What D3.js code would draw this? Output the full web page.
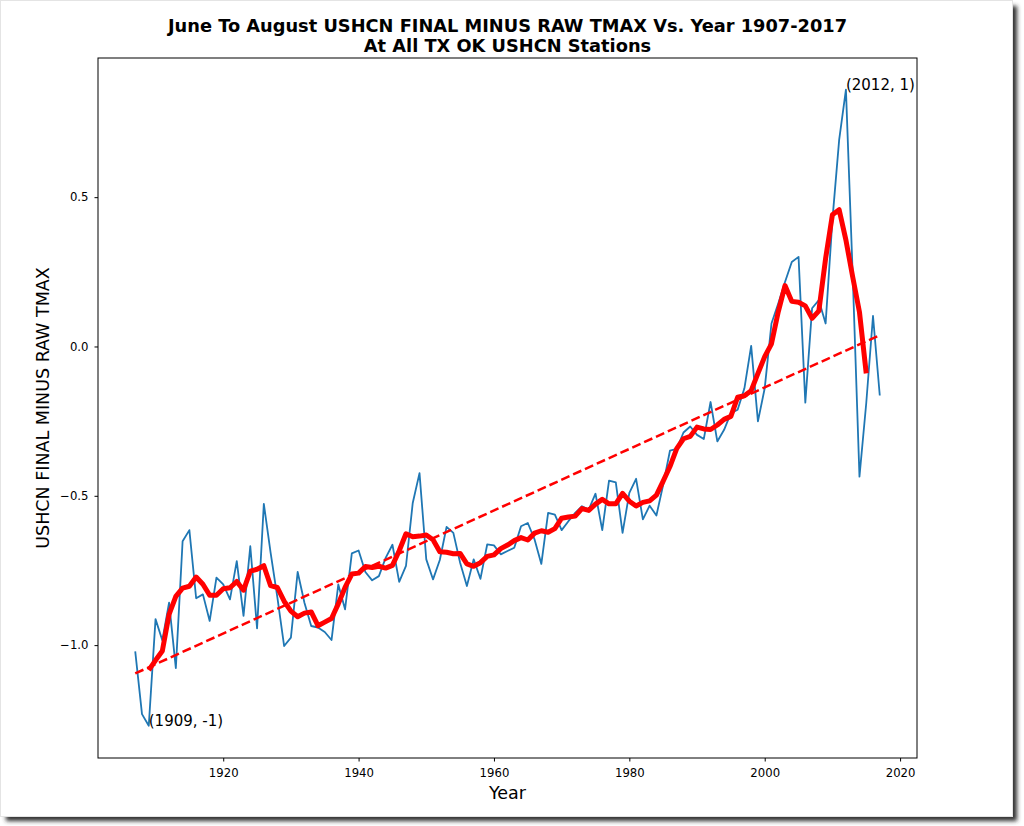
<!DOCTYPE html>
<meta charset="utf-8">
<style>
    body { margin: 0; background: #fff; }
    text { font-family: 'DejaVu Sans', sans-serif; }
    .tick text { font-size: 11.7px; fill: #000; }
    .tick line { stroke: #000; }
</style>
<!-- Load d3.js -->
<script src="https://d3js.org/d3.v7.min.js"></script>

<div id="my_dataviz"></div>
<script>

    // yearly values, June to August, final minus raw tmax
    var years = [
      1907, 1908, 1909, 1910, 1911, 1912, 1913, 1914, 1915, 1916,
      1917, 1918, 1919, 1920, 1921, 1922, 1923, 1924, 1925, 1926,
      1927, 1928, 1929, 1930, 1931, 1932, 1933, 1934, 1935, 1936,
      1937, 1938, 1939, 1940, 1941, 1942, 1943, 1944, 1945, 1946,
      1947, 1948, 1949, 1950, 1951, 1952, 1953, 1954, 1955, 1956,
      1957, 1958, 1959, 1960, 1961, 1962, 1963, 1964, 1965, 1966,
      1967, 1968, 1969, 1970, 1971, 1972, 1973, 1974, 1975, 1976,
      1977, 1978, 1979, 1980, 1981, 1982, 1983, 1984, 1985, 1986,
      1987, 1988, 1989, 1990, 1991, 1992, 1993, 1994, 1995, 1996,
      1997, 1998, 1999, 2000, 2001, 2002, 2003, 2004, 2005, 2006,
      2007, 2008, 2009, 2010, 2011, 2012, 2013, 2014, 2015, 2016,
      2017];

    var values = [
      -1.021, -1.231, -1.270, -0.913, -0.984, -0.858, -1.077, -0.652, -0.615, -0.843,
      -0.830, -0.919, -0.774, -0.797, -0.847, -0.719, -0.902, -0.669, -0.944, -0.527,
      -0.690, -0.840, -1.003, -0.975, -0.755, -0.858, -0.936, -0.941, -0.956, -0.983,
      -0.797, -0.880, -0.693, -0.683, -0.755, -0.783, -0.769, -0.708, -0.664, -0.788,
      -0.735, -0.524, -0.424, -0.713, -0.780, -0.715, -0.604, -0.624, -0.724, -0.802,
      -0.713, -0.778, -0.663, -0.666, -0.696, -0.685, -0.674, -0.602, -0.591, -0.646,
      -0.728, -0.557, -0.563, -0.615, -0.585, -0.557, -0.535, -0.546, -0.493, -0.615,
      -0.449, -0.455, -0.624, -0.490, -0.443, -0.579, -0.533, -0.566, -0.463, -0.349,
      -0.343, -0.288, -0.268, -0.296, -0.310, -0.186, -0.318, -0.279, -0.223, -0.212,
      -0.140, 0.002, -0.251, -0.140, 0.077, 0.144, 0.216, 0.283, 0.300, -0.188,
      0.128, 0.155, 0.077, 0.423, 0.692, 0.860, 0.240, -0.436, -0.190, 0.102,
      -0.164];

    // 5 year centred running mean, 1909-2015
    var smoothYears = [
      1909, 1910, 1911, 1912, 1913, 1914, 1915, 1916, 1917, 1918,
      1919, 1920, 1921, 1922, 1923, 1924, 1925, 1926, 1927, 1928,
      1929, 1930, 1931, 1932, 1933, 1934, 1935, 1936, 1937, 1938,
      1939, 1940, 1941, 1942, 1943, 1944, 1945, 1946, 1947, 1948,
      1949, 1950, 1951, 1952, 1953, 1954, 1955, 1956, 1957, 1958,
      1959, 1960, 1961, 1962, 1963, 1964, 1965, 1966, 1967, 1968,
      1969, 1970, 1971, 1972, 1973, 1974, 1975, 1976, 1977, 1978,
      1979, 1980, 1981, 1982, 1983, 1984, 1985, 1986, 1987, 1988,
      1989, 1990, 1991, 1992, 1993, 1994, 1995, 1996, 1997, 1998,
      1999, 2000, 2001, 2002, 2003, 2004, 2005, 2006, 2007, 2008,
      2009, 2010, 2011, 2012, 2013, 2014, 2015];

    var smoothValues = [
      -1.084, -1.051, -1.020, -0.897, -0.837, -0.809, -0.803, -0.772, -0.796, -0.833,
      -0.833, -0.811, -0.808, -0.787, -0.816, -0.752, -0.746, -0.734, -0.801, -0.807,
      -0.853, -0.886, -0.905, -0.893, -0.889, -0.935, -0.923, -0.911, -0.862, -0.807,
      -0.762, -0.759, -0.737, -0.740, -0.736, -0.742, -0.733, -0.684, -0.627, -0.637,
      -0.635, -0.631, -0.647, -0.687, -0.689, -0.694, -0.693, -0.728, -0.736, -0.724,
      -0.703, -0.698, -0.677, -0.665, -0.650, -0.640, -0.648, -0.625, -0.617, -0.622,
      -0.610, -0.575, -0.571, -0.568, -0.543, -0.549, -0.528, -0.512, -0.527, -0.527,
      -0.492, -0.518, -0.534, -0.522, -0.517, -0.498, -0.451, -0.402, -0.342, -0.309,
      -0.301, -0.270, -0.276, -0.278, -0.263, -0.244, -0.234, -0.170, -0.165, -0.148,
      -0.090, -0.034, 0.009, 0.116, 0.204, 0.151, 0.148, 0.136, 0.094, 0.119,
      0.295, 0.441, 0.458, 0.356, 0.233, 0.115, -0.090];

    // linear trend ends
    var trendYears = [1907, 2017];
    var trendValues = [-1.095, 0.038];

    // annotations
    var noteYears = [1909, 2012];
    var noteValues = [-1.270, 0.860];
    var noteLabels = ["(1909, -1)", "(2012, 1)"];

    var xTicks = [1920, 1940, 1960, 1980, 2000, 2020];
    var yTicks = [-1.0, -0.5, 0.0, 0.5];

    // page and plot box
    var W = 1024, H = 826;
    var box = {left: 98, right: 917, top: 58, bottom: 758};

    var svg = d3.select("#my_dataviz")
      .append("svg")
        .attr("width", W)
        .attr("height", H);

    // drop shadow round the figure
    var defs = svg.append("defs");
    defs.append("filter")
        .attr("id", "shade")
        .attr("x", "-5%").attr("y", "-5%")
        .attr("width", "110%").attr("height", "110%")
      .append("feGaussianBlur")
        .attr("stdDeviation", 2);

    svg.append("rect")
        .attr("x", 6).attr("y", 6)
        .attr("width", 1011).attr("height", 815)
        .attr("fill", "#333")
        .attr("filter", "url(#shade)");

    svg.append("rect")
        .attr("x", 0.5).attr("y", 0.5)
        .attr("width", 1012).attr("height", 816)
        .attr("fill", "#fff")
        .attr("stroke", "#e4e4e4");

    // scales
    var x = d3.scaleLinear()
      .domain([1901.5, 2022.5])
      .range([box.left, box.right]);

    var y = d3.scaleLinear()
      .domain([-1.378, 0.966])
      .range([box.bottom, box.top]);

    // x axis
    svg.append("g")
      .attr("transform", "translate(0," + box.bottom + ")")
      .call(d3.axisBottom(x)
        .tickValues(xTicks)
        .tickFormat(d3.format("d"))
        .tickSize(3.5)
        .tickPadding(7))
      .call(function(g) { g.select(".domain").remove(); });

    // y axis
    svg.append("g")
      .attr("transform", "translate(" + box.left + ",0)")
      .call(d3.axisLeft(y)
        .tickValues(yTicks)
        .tickFormat(d3.format(".1f"))
        .tickSize(3.5)
        .tickPadding(6))
      .call(function(g) { g.select(".domain").remove(); });

    svg.selectAll(".tick text").attr("font-family", null).attr("font-size", null);

    var plot = svg.append("g");

    // raw yearly line
    var rows = years.map(function(d, i) { return [d, values[i]]; });
    plot.append("path")
      .datum(rows)
      .attr("fill", "none")
      .attr("stroke", "#1f77b4")
      .attr("stroke-width", 1.8)
      .attr("stroke-linejoin", "round")
      .attr("d", d3.line()
        .x(function(d) { return x(d[0]); })
        .y(function(d) { return y(d[1]); }));

    // trend
    var trend = trendYears.map(function(d, i) { return [d, trendValues[i]]; });
    plot.append("path")
      .datum(trend)
      .attr("fill", "none")
      .attr("stroke", "red")
      .attr("stroke-width", 2.5)
      .attr("stroke-dasharray", "9,4")
      .attr("d", d3.line()
        .x(function(d) { return x(d[0]); })
        .y(function(d) { return y(d[1]); }));

    // running mean
    var smooth = smoothYears.map(function(d, i) { return [d, smoothValues[i]]; });
    plot.append("path")
      .datum(smooth)
      .attr("fill", "none")
      .attr("stroke", "red")
      .attr("stroke-width", 5)
      .attr("stroke-linejoin", "round")
      .attr("d", d3.line()
        .x(function(d) { return x(d[0]); })
        .y(function(d) { return y(d[1]); }));

    // frame
    svg.append("rect")
      .attr("x", box.left)
      .attr("y", box.top)
      .attr("width", box.right - box.left)
      .attr("height", box.bottom - box.top)
      .attr("fill", "none")
      .attr("stroke", "#000")
      .attr("stroke-width", 1);

    // point labels
    svg.append("g")
      .selectAll("text")
      .data(noteLabels)
      .enter()
      .append("text")
        .attr("x", function(d, i) { return x(noteYears[i]); })
        .attr("y", function(d, i) { return y(noteValues[i]); })
        .style("font-size", "15px")
        .attr("fill", "#000")
        .text(function(d) { return d; });

    // titles
    svg.append("text")
      .attr("x", (box.left + box.right) / 2)
      .attr("y", 32)
      .attr("text-anchor", "middle")
      .style("font-weight", "bold")
      .style("font-size", "17.8px")
      .text("June To August USHCN FINAL MINUS RAW TMAX Vs. Year 1907-2017");

    svg.append("text")
      .attr("x", (box.left + box.right) / 2)
      .attr("y", 52)
      .attr("text-anchor", "middle")
      .style("font-weight", "bold")
      .style("font-size", "17.8px")
      .text("At All TX OK USHCN Stations");

    svg.append("text")
      .attr("x", (box.left + box.right) / 2)
      .attr("y", 799)
      .attr("text-anchor", "middle")
      .style("font-size", "17.5px")
      .text("Year");

    svg.append("text")
      .attr("transform", "translate(49," + (box.top + box.bottom) / 2 + ")rotate(-90)")
      .attr("text-anchor", "middle")
      .style("font-size", "17.5px")
      .text("USHCN FINAL MINUS RAW TMAX");

</script>
